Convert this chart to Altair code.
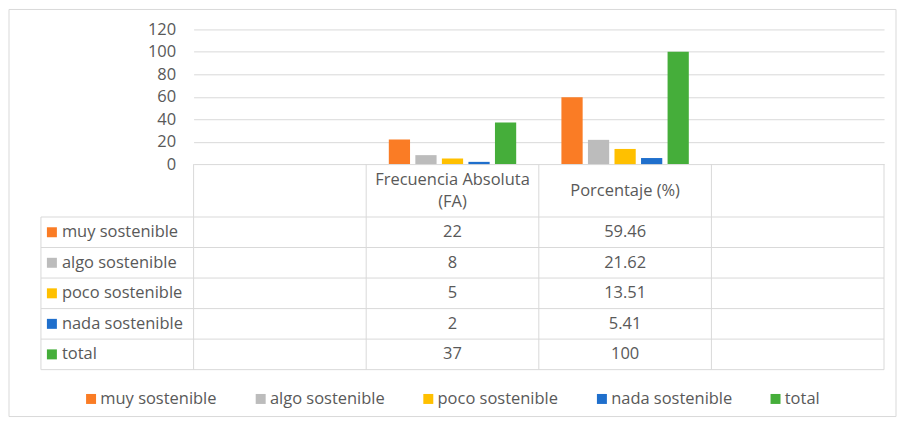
import altair as alt
import pandas as pd

# ---- data ----
series = ["muy sostenible", "algo sostenible", "poco sostenible", "nada sostenible", "total"]
colors = ["#FA7C25", "#BCBCBC", "#FFC000", "#1F6FCC", "#45AE3A"]
columns = ["c0", "fa", "pct", "c3"]
column_titles = ["", "Frecuencia Absoluta\n(FA)", "Porcentaje (%)", ""]
fa_values = [22, 8, 5, 2, 37]
pct_values = [59.46, 21.62, 13.51, 5.41, 100]
y_ticks = [0, 20, 40, 60, 80, 100, 120]

# ---- layout / style constants ----
W = 692          # plot width
BAR_H = 135      # bar panel height
HEAD_H = 53      # header row height
BODY_H = 153     # 5 table rows
LABEL_W = 153    # left label column of the data table
GRID = "#D9D9D9"
TXT = "#595959"
FONT = "Open Sans"
FS = 16.5

bars_df = pd.DataFrame(
    [{"col": "fa", "series": s, "value": v} for s, v in zip(series, fa_values)]
    + [{"col": "pct", "series": s, "value": v} for s, v in zip(series, pct_values)]
)
table_df = pd.DataFrame(
    [{"col": "fa", "series": s, "text": f"{v:g}"} for s, v in zip(series, fa_values)]
    + [{"col": "pct", "series": s, "text": f"{v:g}"} for s, v in zip(series, pct_values)]
)
header_df = pd.DataFrame({"col": columns, "title": column_titles})
series_df = pd.DataFrame({"series": series})
frame_df = pd.DataFrame({"k": [0]})

xscale = alt.Scale(domain=columns, paddingInner=0, paddingOuter=0)
yrow = alt.Scale(domain=series, paddingInner=0, paddingOuter=0)
cscale = alt.Scale(domain=series, range=colors)

# ---- top: grouped bars ----
frame = alt.Chart(frame_df).mark_rect(fill=None, stroke=GRID, strokeWidth=1).encode(
    x=alt.value(-185), x2=alt.value(W + 12), y=alt.value(-20), y2=alt.value(388)
)

bars = alt.Chart(bars_df).mark_bar().encode(
    x=alt.X("col:N", scale=xscale, axis=None),
    xOffset=alt.XOffset("series:N", scale=alt.Scale(domain=series, paddingInner=0.2, paddingOuter=0.852)),
    y=alt.Y(
        "value:Q",
        scale=alt.Scale(domain=[0, 120], nice=False),
        axis=alt.Axis(
            values=y_ticks, grid=True, gridColor=GRID, domain=False, ticks=False,
            labelPadding=18, labelFontSize=FS, labelColor=TXT, labelFont=FONT, title=None,
        ),
    ),
    color=alt.Color(
        "series:N", scale=cscale,
        legend=alt.Legend(
            orient="none", legendX=-111, legendY=362, direction="horizontal", title=None,
            symbolType="square", symbolSize=100, symbolStrokeWidth=0, symbolOpacity=1,
            labelFontSize=FS, labelColor=TXT, labelFont=FONT, columnPadding=35,
            labelOffset=1, padding=0,
        ),
    ),
)
top = alt.layer(frame, bars).properties(width=W, height=BAR_H)

# ---- header row of the data table ----
head_single = alt.Chart(header_df).transform_filter(
    "indexof(datum.title, '\\n') < 0"
).mark_text(fontSize=FS, color=TXT, font=FONT).encode(
    x=alt.X("col:N", scale=xscale, axis=None), text="title:N"
)
head_multi = alt.Chart(header_df).transform_filter(
    "indexof(datum.title, '\\n') >= 0"
).mark_text(lineBreak="\n", fontSize=FS, color=TXT, font=FONT, lineHeight=22, dy=-11).encode(
    x=alt.X("col:N", scale=xscale, axis=None), text="title:N"
)
head_left = alt.Chart(header_df).mark_rule(color=GRID).encode(
    x=alt.X("col:N", scale=xscale, bandPosition=0, axis=None)
)
head_right = alt.Chart(header_df.tail(1)).mark_rule(color=GRID).encode(
    x=alt.X("col:N", scale=xscale, bandPosition=1, axis=None)
)
header = alt.layer(head_left, head_right, head_single, head_multi).properties(width=W, height=HEAD_H)

# ---- body of the data table ----
row_top = alt.Chart(series_df).mark_rule(color=GRID).encode(
    y=alt.Y("series:N", scale=yrow, bandPosition=0, axis=None),
    x=alt.value(-LABEL_W), x2=alt.value(W),
)
row_bottom = alt.Chart(series_df.tail(1)).mark_rule(color=GRID).encode(
    y=alt.Y("series:N", scale=yrow, bandPosition=1, axis=None),
    x=alt.value(-LABEL_W), x2=alt.value(W),
)
col_left = alt.Chart(header_df).mark_rule(color=GRID).encode(
    x=alt.X("col:N", scale=xscale, bandPosition=0, axis=None)
)
col_right = alt.Chart(header_df.tail(1)).mark_rule(color=GRID).encode(
    x=alt.X("col:N", scale=xscale, bandPosition=1, axis=None)
)
table_edge = alt.Chart(frame_df).mark_rule(color=GRID).encode(
    x=alt.value(-LABEL_W), y=alt.value(0), y2=alt.value(BODY_H)
)
swatch = alt.Chart(series_df).mark_square(size=100, opacity=1).encode(
    x=alt.value(-142),
    y=alt.Y("series:N", scale=yrow, axis=None),
    color=alt.Color("series:N", scale=cscale, legend=None),
)
row_label = alt.Chart(series_df).mark_text(
    align="left", fontSize=FS, color=TXT, font=FONT
).encode(
    x=alt.value(-132),
    y=alt.Y("series:N", scale=yrow, axis=None),
    text="series:N",
)
cells = alt.Chart(table_df).mark_text(fontSize=FS, color=TXT, font=FONT).encode(
    x=alt.X("col:N", scale=xscale, axis=None),
    y=alt.Y("series:N", scale=yrow, axis=None),
    text="text:N",
)
body = alt.layer(row_top, row_bottom, col_left, col_right, table_edge, swatch, row_label, cells).properties(
    width=W, height=BODY_H
)

chart = (
    alt.vconcat(top, header, body, spacing=0, bounds="flush")
    .properties(padding=0)
    .configure(font=FONT)
    .configure_view(stroke=None)
)

chart.save("out.html", embed_options={"renderer": "svg", "actions": False})
